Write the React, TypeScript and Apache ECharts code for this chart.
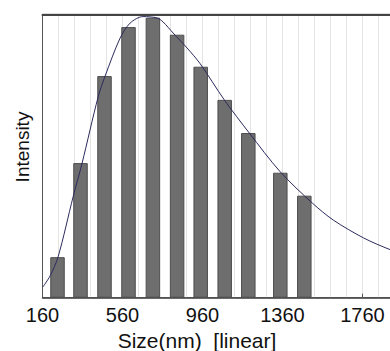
import React, { useEffect, useRef } from "react";
import * as echarts from "echarts";

// Histogram bins (nm) and relative intensity (% of full scale)
const binCenters = [235, 350, 470, 590, 712, 833, 951, 1071, 1189, 1349, 1469];
const binValues = [14.3, 47.5, 78.2, 95.5, 98.8, 92.8, 81.5, 69.8, 58.1, 44.1, 36.0];

// Fitted distribution curve
const curveX = [162, 198, 238, 313, 358, 438, 473, 548, 598, 663, 733, 763, 813, 883, 949, 1069, 1194, 1349, 1509, 1614, 1765, 1900, 2000];
const curveY = [3.8, 7.7, 14.4, 35.6, 47.5, 70.8, 78.2, 91.6, 96.9, 99.2, 98.7, 97.3, 93.4, 88.1, 82.5, 69.8, 58.1, 44.4, 33.4, 27.4, 21.1, 16.9, 14.5];

const xTickLabels = [160, 560, 960, 1360, 1760];

const FONT = "Liberation Sans, Arial, sans-serif";

export default function App() {
  const ref = useRef<HTMLDivElement>(null);
  useEffect(() => {
    if (!ref.current) return;
    const chart = echarts.init(ref.current, null, { renderer: "svg" });
    const xMin = 160;
    const xMax = 2160;
    chart.setOption({
      animation: false,
      backgroundColor: "#ffffff",
      grid: {
        left: 42.5,
        top: 14.3,
        width: 400,
        height: 283.4,
        outerBoundsMode: "none",
        containLabel: false,
        show: true,
        borderColor: "#555555",
        borderWidth: 1,
        backgroundColor: "#ffffff",
      },
      xAxis: [
        {
          type: "value",
          min: xMin,
          max: xMax,
          interval: 400,
          axisLine: { show: true, lineStyle: { color: "#444444", width: 1.5 } },
          axisTick: { show: true, inside: true, length: 4, lineStyle: { color: "#555555" } },
          axisLabel: {
            color: "#111111",
            fontFamily: FONT,
            fontSize: 20,
            margin: 7,
            formatter: (v: number) => (xTickLabels.indexOf(v) >= 0 ? String(v) : ""),
          },
          splitLine: { show: true, lineStyle: { color: "#e4e4e4", width: 1 } },
          minorTick: { show: false, splitNumber: 5 },
          minorSplitLine: { show: true, lineStyle: { color: "#e4e4e4", width: 1 } },
        },
        {
          type: "value",
          position: "top",
          min: xMin,
          max: xMax,
          axisLine: { show: true, lineStyle: { color: "#444444", width: 2 } },
          axisTick: { show: false },
          axisLabel: { show: false },
          splitLine: { show: false },
        },
      ],
      yAxis: {
        type: "value",
        min: 0,
        max: 100,
        axisLine: { show: true, lineStyle: { color: "#555555", width: 1 } },
        axisTick: { show: false },
        axisLabel: { show: false },
        splitLine: { show: false },
      },
      graphic: [
        {
          type: "text",
          x: 22,
          y: 147,
          rotation: Math.PI / 2,
          style: {
            text: "Intensity",
            fill: "#111111",
            font: `19px ${FONT}`,
            align: "center",
            verticalAlign: "middle",
          },
        },
        {
          type: "text",
          x: 197,
          y: 340,
          style: {
            text: "Size(nm)  [linear]",
            fill: "#111111",
            font: `21px ${FONT}`,
            align: "center",
            verticalAlign: "middle",
          },
        },
      ],
      series: [
        {
          type: "bar",
          xAxisIndex: 0,
          barWidth: 14.5,
          data: binCenters.map((x, i) => [x, binValues[i]]),
          itemStyle: { color: "#6e6e6e", borderColor: "#4e4e4e", borderWidth: 1 },
          z: 2,
        },
        {
          type: "line",
          xAxisIndex: 0,
          data: curveX.map((x, i) => [x, curveY[i]]),
          smooth: 0.3,
          symbol: "none",
          lineStyle: { color: "#2b2b5c", width: 1 },
          z: 3,
        },
      ],
    });
    return () => chart.dispose();
  }, []);
  return (
    <div
      ref={ref}
      style={{ position: "absolute", left: 0, top: 0, width: 390, height: 351, overflow: "hidden" }}
    />
  );
}
